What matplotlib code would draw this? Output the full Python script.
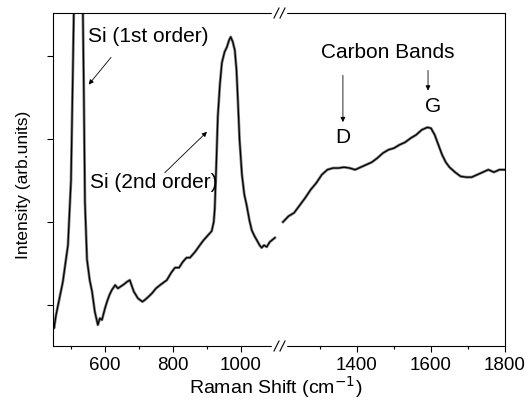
import numpy as np
import matplotlib
matplotlib.use("Agg")
import matplotlib.pyplot as plt
from matplotlib.lines import Line2D

plt.rcParams['font.family'] = ['Liberation Sans', 'DejaVu Sans']

# Raman spectrum, low-shift part (Si region)
shift_lo = [447, 450, 456, 462, 476, 491, 497, 500, 506, 512, 520, 528, 535, 538,
            541, 547, 555, 562, 570, 579, 585, 591, 600, 606, 613, 620, 630, 638,
            645, 656, 665, 673, 678, 685, 697, 710, 717, 728, 738, 750, 762, 782,
            795, 806, 818, 829, 840, 850, 865, 879, 890, 903, 914, 920, 923, 928,
            932, 938, 944, 952, 959, 965, 970, 976, 982, 987, 991, 996, 1003, 1010,
            1017, 1025, 1032, 1040, 1047, 1055, 1061, 1068, 1076, 1085, 1091, 1100]
inten_lo = [-0.20, -0.28, -0.12, 0.00, 0.28, 0.72, 1.24, 1.50, 2.95, 4.50, 7.00, 5.00,
            3.52, 2.47, 1.24, 0.55, 0.30, 0.16, -0.08, -0.24, -0.16, -0.18, -0.04,
            0.04, 0.12, 0.18, 0.24, 0.20, 0.22, 0.25, 0.28, 0.30, 0.24, 0.16, 0.08,
            0.04, 0.06, 0.10, 0.14, 0.20, 0.24, 0.30, 0.39, 0.45, 0.45, 0.52, 0.57,
            0.57, 0.64, 0.72, 0.78, 0.84, 0.89, 1.00, 1.16, 1.75, 2.27, 2.65, 2.92,
            3.05, 3.11, 3.19, 3.23, 3.17, 3.07, 2.83, 2.47, 1.99, 1.57, 1.33, 1.20,
            1.02, 0.90, 0.83, 0.78, 0.72, 0.69, 0.72, 0.70, 0.76, 0.78, 0.81]

# high-shift part (carbon D and G bands)
shift_hi = [1200, 1215, 1230, 1245, 1260, 1275, 1290, 1305, 1320, 1335, 1350, 1365,
            1380, 1395, 1410, 1425, 1440, 1455, 1470, 1485, 1500, 1515, 1530, 1545,
            1560, 1575, 1590, 1600, 1610, 1620, 1630, 1640, 1650, 1665, 1680, 1695,
            1710, 1725, 1740, 1755, 1770, 1785, 1800]
inten_hi = [1.00, 1.07, 1.11, 1.20, 1.29, 1.39, 1.47, 1.57, 1.63, 1.65, 1.65, 1.66,
            1.65, 1.63, 1.66, 1.69, 1.72, 1.77, 1.83, 1.87, 1.89, 1.93, 1.96, 2.01,
            2.05, 2.11, 2.14, 2.13, 2.05, 1.93, 1.81, 1.72, 1.66, 1.60, 1.55, 1.54,
            1.54, 1.57, 1.60, 1.63, 1.60, 1.63, 1.63]

ymin, ymax = -0.494, 3.518
fs_tick = 13.5
fs_note = 15

fig = plt.figure(figsize=(5.32, 4.04), dpi=100)
ax1 = fig.add_axes([53/532, 1-346/404, 227/532, 333/404])
ax2 = fig.add_axes([280/532, 1-346/404, 225/532, 333/404])

for ax, x, y in ((ax1, shift_lo, inten_lo), (ax2, shift_hi, inten_hi)):
    ax.plot(x, y, color='0.5', lw=2.0)
    ax.plot(x, y, color='k', lw=0.9)
    ax.set_ylim(ymin, ymax)
    ax.tick_params(direction='out', labelsize=fs_tick, length=4, width=0.8, pad=4)
    ax.tick_params(which='minor', direction='out', length=2.5, width=0.8)
    for s in ax.spines.values():
        s.set_linewidth(0.8)

ax1.set_xlim(447, 1115)
ax1.set_xticks([600, 800, 1000])
ax1.set_xticks([500, 700, 900], minor=True)
ax1.set_yticks([0, 1, 2, 3])
ax1.set_yticklabels([])
ax1.spines['right'].set_visible(False)

ax2.set_xlim(1192, 1800)
ax2.set_xticks([1400, 1600, 1800])
ax2.set_xticks([1300, 1500, 1700], minor=True)
ax2.set_yticks([])
ax2.spines['left'].set_visible(False)

# break marks on top and bottom spines
for yb in (1-346/404, 1-13/404):
    fig.add_artist(Line2D([273/532, 285/532], [yb, yb], color='white', lw=2.5))
    for x0 in (274, 280):
        fig.add_artist(Line2D([x0/532, (x0+5)/532], [yb-5/404, yb+5/404],
                              color='k', lw=0.8))

fig.text(24/532, 1-185/404, 'Intensity (arb.units)', fontsize=12.5,
         rotation=90, ha='center', va='center')
fig.text(276/532, 1-387/404, 'Raman Shift (cm$^{-1}$)', fontsize=14,
         ha='center', va='center')

arrow = dict(arrowstyle='-|>', color='k', lw=0.6, mutation_scale=7)
ax1.text(550, 3.23, 'Si (1st order)', fontsize=fs_note, va='center', ha='left')
ax1.annotate('', xy=(547, 2.63), xytext=(623, 3.01), arrowprops=arrow)
ax1.text(556, 1.48, 'Si (2nd order)', fontsize=fs_note, va='center', ha='left')
ax1.annotate('', xy=(906, 2.11), xytext=(770, 1.57), arrowprops=arrow)

ax2.text(1484, 3.04, 'Carbon Bands', fontsize=fs_note, va='center', ha='center')
ax2.annotate('', xy=(1362, 2.17), xytext=(1362, 2.80), arrowprops=arrow)
ax2.text(1362, 2.02, 'D', fontsize=fs_note, va='center', ha='center')
ax2.annotate('', xy=(1592, 2.55), xytext=(1592, 2.86), arrowprops=arrow)
ax2.text(1605, 2.39, 'G', fontsize=fs_note, va='center', ha='center')

fig.savefig('out.png', dpi=100)
